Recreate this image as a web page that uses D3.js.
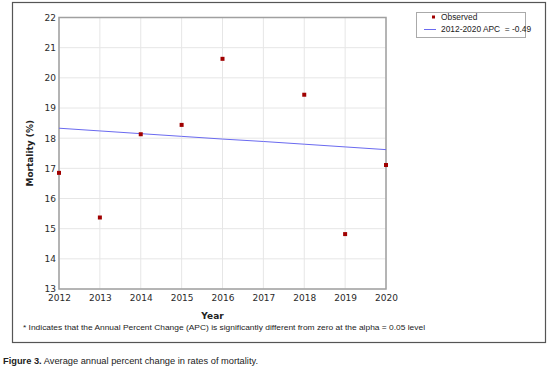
<!DOCTYPE html>
<html>
<head>
<meta charset="utf-8">
<script src="https://cdn.jsdelivr.net/npm/d3@7"></script>
<style>
  html, body { margin: 0; padding: 0; background: #fff; }
  svg { display: block; }
</style>
</head>
<body>
<svg id="chart" width="547" height="371"></svg>
<script>
// ---- data ----
const obsYears  = [2012, 2013, 2014, 2015, 2016, 2018, 2019, 2020];
const obsValues = [16.85, 15.37, 18.13, 18.44, 20.63, 19.44, 14.82, 17.11];
const fitYears  = [2012, 2013, 2014, 2015, 2016, 2017, 2018, 2019, 2020];
const fitValues = [18.33, 18.24, 18.15, 18.06, 17.97, 17.89, 17.80, 17.71, 17.62];
const xTicks = [2012, 2013, 2014, 2015, 2016, 2017, 2018, 2019, 2020];
const yTicks = [13, 14, 15, 16, 17, 18, 19, 20, 21, 22];
const legendLabels = ["Observed", "2012-2020 APC  = -0.49"];
const xTitle = "Year";
const yTitle = "Mortality (%)";
const footnote = "* Indicates that the Annual Percent Change (APC) is significantly different from zero at the alpha = 0.05 level";
const captionBold = "Figure 3.";
const captionText = "Average annual percent change in rates of mortality.";

const svg = d3.select("#chart");

// outer frame
svg.append("rect").attr("x", 12.5).attr("y", 2.5).attr("width", 533).attr("height", 340)
  .attr("fill", "none").attr("stroke", "#555").attr("stroke-width", 1.2);

const L = 59, R = 386, T = 17.5, B = 289;
const x = d3.scaleLinear().domain([2012, 2020]).range([L, R]);
const y = d3.scaleLinear().domain([13, 22]).range([B, T]);

// grid
svg.append("g").selectAll("line").data(xTicks).join("line")
  .attr("x1", d => x(d)).attr("x2", d => x(d)).attr("y1", T).attr("y2", B)
  .attr("stroke", "#e6e6e6").attr("stroke-width", 1);
svg.append("g").selectAll("line").data(yTicks).join("line")
  .attr("x1", L).attr("x2", R).attr("y1", d => y(d)).attr("y2", d => y(d))
  .attr("stroke", "#e6e6e6").attr("stroke-width", 1);

// plot border
svg.append("rect").attr("x", L).attr("y", T).attr("width", R - L).attr("height", B - T)
  .attr("fill", "none").attr("stroke", "#a0a0a0").attr("stroke-width", 1.5);

// axes labels
const xAxis = svg.append("g").attr("transform", `translate(0,${B})`)
  .call(d3.axisBottom(x).tickValues(xTicks).tickFormat(d3.format("d")).tickSize(0).tickPadding(6));
const yAxis = svg.append("g").attr("transform", `translate(${L},0)`)
  .call(d3.axisLeft(y).tickValues(yTicks).tickFormat(d3.format("d")).tickSize(0).tickPadding(3));
[xAxis, yAxis].forEach(a => {
  a.select(".domain").remove();
  a.selectAll("text").attr("font-family", "DejaVu Sans, Verdana, sans-serif")
    .attr("font-size", 9).attr("fill", "#2a2a2a");
});

// axis titles
svg.append("text").attr("x", x(2016) - 10).attr("y", 319).attr("text-anchor", "middle")
  .attr("font-family", "DejaVu Sans, Verdana, sans-serif").attr("font-size", 9)
  .attr("font-weight", "bold").attr("fill", "#222").text(xTitle);
svg.append("text").attr("transform", `translate(33,${(T + B) / 2}) rotate(-90)`)
  .attr("text-anchor", "middle")
  .attr("font-family", "DejaVu Sans, Verdana, sans-serif").attr("font-size", 9)
  .attr("font-weight", "bold").attr("fill", "#222").text(yTitle);

// fit line
svg.append("path").datum(fitYears.map((d, i) => [d, fitValues[i]]))
  .attr("d", d3.line().x(d => x(d[0])).y(d => y(d[1])))
  .attr("fill", "none").attr("stroke", "#6a6af0").attr("stroke-width", 1);

// points
svg.append("g").selectAll("rect").data(obsYears.map((d, i) => [d, obsValues[i]])).join("rect")
  .attr("x", d => x(d[0]) - 2).attr("y", d => y(d[1]) - 2)
  .attr("width", 4).attr("height", 4).attr("fill", "#a00000");

// legend
const lg = svg.append("g");
lg.append("rect").attr("x", 416.5).attr("y", 12.5).attr("width", 109).attr("height", 25)
  .attr("fill", "#fff").attr("stroke", "#aaa").attr("stroke-width", 1);
lg.append("rect").attr("x", 432).attr("y", 15.5).attr("width", 3).attr("height", 3).attr("fill", "#a00000");
lg.append("line").attr("x1", 424).attr("x2", 436).attr("y1", 29.5).attr("y2", 29.5)
  .attr("stroke", "#6a6af0").attr("stroke-width", 1);
lg.selectAll("text").data(legendLabels).join("text")
  .attr("x", 441).attr("y", (d, i) => 20 + i * 12)
  .attr("font-family", "Liberation Sans, Arial, sans-serif").attr("font-size", 8.4)
  .style("white-space", "pre")
  .attr("fill", "#222").text(d => d);

// footnote
svg.append("text").attr("x", 23).attr("y", 330)
  .attr("font-family", "Liberation Sans, Arial, sans-serif").attr("font-size", 7.6)
  .attr("fill", "#222").attr("textLength", 402).attr("lengthAdjust", "spacingAndGlyphs")
  .text(footnote);

// caption
const cap = svg.append("text").attr("x", 3).attr("y", 364)
  .attr("font-family", "Liberation Sans Narrow, Liberation Sans, Arial, sans-serif")
  .attr("font-size", 9).attr("fill", "#222")
  .attr("textLength", 255).attr("lengthAdjust", "spacingAndGlyphs");
cap.append("tspan").attr("font-weight", "bold").text(captionBold);
cap.append("tspan").text(" " + captionText);
</script>
</body>
</html>
